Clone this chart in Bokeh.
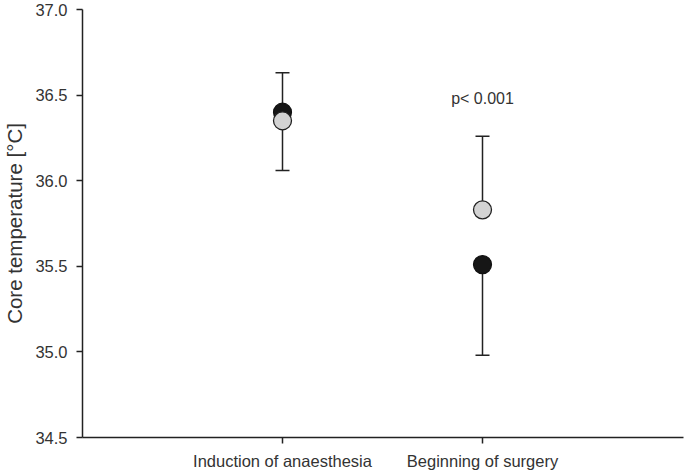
from bokeh.plotting import figure
from bokeh.models import ColumnDataSource, Whisker, TeeHead, FixedTicker, Range1d, Label, CustomJSTickFormatter
from bokeh.embed import file_html
from bokeh.resources import INLINE

categories = ["Induction of anaesthesia", "Beginning of surgery"]
x_pos = [1, 2]
black_mean = [36.40, 35.51]
black_lower = [36.06, 34.98]
gray_mean = [36.35, 35.83]
gray_upper = [36.63, 36.26]
y_ticks = [34.5, 35.0, 35.5, 36.0, 36.5, 37.0]
p_text = "p< 0.001"
p_pos = (2, 36.48)

FONT = "Liberation Sans"
TXT = "#333333"
LINE = "#222222"

p = figure(width=684, height=472, output_backend="svg", toolbar_location=None,
           x_range=Range1d(0, 3.005), y_range=Range1d(34.5, 37.0),
           min_border_left=82, min_border_right=1, min_border_top=9, min_border_bottom=33)
p.outline_line_color = None
p.xgrid.visible = False
p.ygrid.visible = False
p.background_fill_color = "white"
p.border_fill_color = "white"

# axes
p.xaxis.ticker = FixedTicker(ticks=x_pos)
p.xaxis.major_label_overrides = {x: c for x, c in zip(x_pos, categories)}
p.yaxis.ticker = FixedTicker(ticks=y_ticks)
p.yaxis.formatter = CustomJSTickFormatter(code="return tick.toFixed(1);")
for ax in (p.xaxis[0], p.yaxis[0]):
    ax.axis_line_color = LINE
    ax.axis_line_width = 1.5
    ax.major_tick_line_color = LINE
    ax.major_tick_line_width = 1.5
    ax.major_tick_in = 0
    ax.major_tick_out = 6
    ax.minor_tick_line_color = None
    ax.major_label_text_font = FONT
    ax.major_label_text_color = TXT
p.xaxis.major_label_text_font_size = "16.5px"
p.xaxis.major_label_standoff = 8
p.yaxis.major_label_text_font_size = "16.5px"
p.yaxis.major_label_standoff = 9
p.yaxis.axis_label = "Core temperature [°C]"
p.yaxis.axis_label_text_font = FONT
p.yaxis.axis_label_text_font_size = "20.5px"
p.yaxis.axis_label_text_font_style = "normal"
p.yaxis.axis_label_text_color = TXT
p.yaxis.axis_label_standoff = 6

src = ColumnDataSource(dict(x=x_pos, bm=black_mean, bl=black_lower, gm=gray_mean, gu=gray_upper))

w_up = Whisker(source=src, base="x", lower="gm", upper="gu", dimension="height",
               line_color=LINE, line_width=1.5,
               upper_head=TeeHead(size=14, line_color=LINE, line_width=1.5), lower_head=None)
w_lo = Whisker(source=src, base="x", lower="bl", upper="bm", dimension="height",
               line_color=LINE, line_width=1.5,
               lower_head=TeeHead(size=14, line_color=LINE, line_width=1.5), upper_head=None)
p.add_layout(w_up)
p.add_layout(w_lo)

p.scatter(x="x", y="bm", source=src, size=18, fill_color="#161616", line_color="#111111", line_width=1.2)
p.scatter(x="x", y="gm", source=src, size=18, fill_color="#d3d3d3", line_color="#222222", line_width=1.3)

p.add_layout(Label(x=p_pos[0], y=p_pos[1], text=p_text, text_align="center", text_baseline="middle",
                   text_font=FONT, text_font_size="16px", text_color=TXT))

open("out.html", "w").write(file_html(p, INLINE))
